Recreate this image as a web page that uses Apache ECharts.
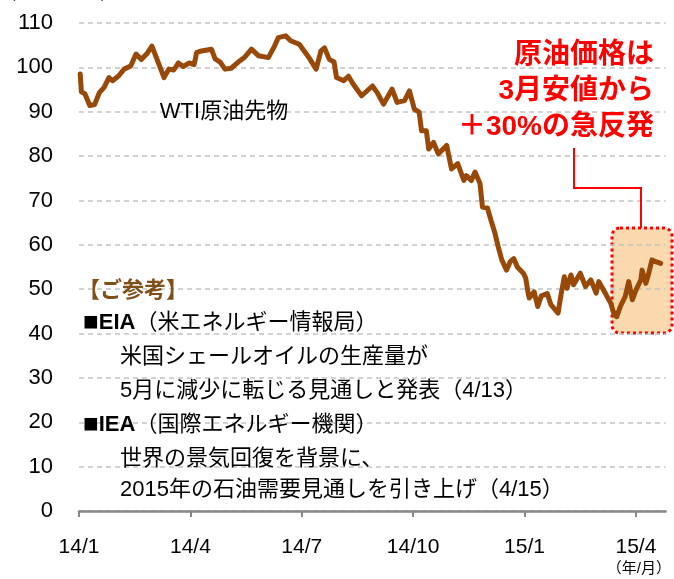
<!DOCTYPE html>
<html><head><meta charset="utf-8">
<script src="https://cdn.jsdelivr.net/npm/echarts@6/dist/echarts.min.js"></script>
<style>html,body{margin:0;padding:0;background:#fff}#c{width:674px;height:579px}</style>
</head><body><div id="c"></div>
<script>
// ---- data (WTI crude futures, USD/bbl) ----
var dates = [
'2014-01-02','2014-01-03','2014-01-06','2014-01-10','2014-01-14','2014-01-18','2014-01-22','2014-01-26','2014-01-29',
'2014-02-03','2014-02-07','2014-02-12','2014-02-16','2014-02-20','2014-02-24','2014-02-28',
'2014-03-04','2014-03-10','2014-03-14','2014-03-18','2014-03-22','2014-03-26','2014-03-31',
'2014-04-04','2014-04-06','2014-04-10','2014-04-18','2014-04-21','2014-04-25','2014-04-29',
'2014-05-04','2014-05-10','2014-05-15','2014-05-21','2014-05-27',
'2014-06-04','2014-06-09','2014-06-12','2014-06-18','2014-06-22','2014-06-29',
'2014-07-03','2014-07-07','2014-07-13','2014-07-17','2014-07-20','2014-07-24','2014-07-28','2014-07-30',
'2014-08-05','2014-08-09','2014-08-13','2014-08-20','2014-08-29',
'2014-09-02','2014-09-07','2014-09-14','2014-09-18','2014-09-24','2014-09-28',
'2014-10-02','2014-10-06','2014-10-08','2014-10-12','2014-10-14','2014-10-18','2014-10-22','2014-10-29',
'2014-11-02','2014-11-07','2014-11-12','2014-11-14','2014-11-18','2014-11-21','2014-11-25','2014-11-27',
'2014-12-01','2014-12-04','2014-12-07','2014-12-10','2014-12-13','2014-12-17','2014-12-20','2014-12-23','2014-12-26','2014-12-31',
'2015-01-02','2015-01-04','2015-01-05','2015-01-09','2015-01-12','2015-01-15','2015-01-20','2015-01-23','2015-01-29','2015-01-31',
'2015-02-03','2015-02-05','2015-02-08','2015-02-10','2015-02-15','2015-02-19','2015-02-23','2015-02-27',
'2015-03-01','2015-03-05','2015-03-11','2015-03-14','2015-03-16','2015-03-19','2015-03-23','2015-03-26','2015-03-29',
'2015-04-01','2015-04-05','2015-04-06','2015-04-09','2015-04-11','2015-04-14','2015-04-17','2015-04-21'
];
var wti = [
98.5,94.5,94.0,91.4,91.6,94.3,95.5,97.7,97.0,
98.1,99.6,100.3,103.0,101.8,103.0,104.8,
101.9,97.7,99.6,99.4,101.0,100.2,101.0,
100.6,103.3,103.7,104.1,101.9,101.2,99.6,
99.8,101.2,102.2,104.1,102.6,
102.2,104.8,106.7,107.1,106.0,105.2,
103.7,102.2,99.6,103.7,104.4,101.8,101.2,97.7,
97.0,98.0,96.2,93.6,95.8,
94.3,91.7,95.1,92.1,92.5,94.7,
90.6,89.9,85.7,85.7,81.6,83.1,80.5,82.4,
77.1,78.3,74.5,75.6,74.5,76.4,73.8,68.5,
68.3,65.5,62.9,59.6,56.6,54.3,56.2,56.9,55.0,53.6,
52.5,49.1,48.0,49.4,46.1,48.5,49.0,46.5,44.6,48.0,
52.8,50.2,53.2,51.0,53.6,50.6,52.1,49.1,
51.7,49.8,46.8,44.2,43.8,46.1,48.3,51.7,47.6,
49.8,52.1,54.3,51.3,53.2,56.6,56.2,55.8
];
var tickLabels = ['14/1','14/4','14/7','14/10','15/1','15/4'];
var tickMonths = [0,3,6,9,12,15];
var yTicks = [0,10,20,30,40,50,60,70,80,90,100,110];

// month index (months since 2014-01-01, fractional)
function monthIdx(s){
  var p = s.split('-'), y=+p[0], m=+p[1], d=+p[2];
  var dim = new Date(y, m, 0).getDate();
  return (y-2014)*12 + (m-1) + (d-1)/dim;
}
var seriesData = dates.map(function(d,i){ return [monthIdx(d), wti[i]]; });

var JP = "'Liberation Sans','Noto Sans CJK JP',sans-serif";
var richHead = {
  sq:{font:'26px '+JP, fill:'#000', lineHeight:26},
  b:{font:'bold 22px '+JP, fill:'#000'}
};
var chart = echarts.init(document.getElementById('c'), null, {renderer:'canvas'});
chart.setOption({
  animation:false,
  backgroundColor:'#ffffff',
  grid:{left:79, right:4, top:23, bottom:67, containLabel:false},
  xAxis:{
    type:'value', min:0, max:15.8,
    axisLine:{show:true, lineStyle:{color:'#878787', width:2.5}},
    axisTick:{show:true, customValues:tickMonths, length:6, inside:false, lineStyle:{color:'#878787', width:2}},
    splitLine:{show:false},
    axisLabel:{
      customValues:tickMonths, margin:24,
      fontFamily:JP, fontSize:21, color:'#000', lineHeight:24,
      formatter:function(v){
        var i = tickMonths.indexOf(Math.round(v));
        if(i<0) return '';
        if(i===tickMonths.length-1) return tickLabels[i]+'\n{s|（年/月）}';
        return tickLabels[i];
      },
      rich:{s:{fontFamily:JP, fontSize:15, color:'#000', lineHeight:20, padding:[0,0,0,6]}}
    }
  },
  yAxis:{
    type:'value', min:0, max:110, interval:10,
    axisLine:{show:false}, axisTick:{show:false},
    splitLine:{show:true, lineStyle:{color:'#c4c4c4', width:1.5, type:[5,4]}},
    axisLabel:{margin:26, fontFamily:JP, fontSize:22, color:'#000',
      formatter:function(v){ return yTicks.indexOf(v)>=0 ? String(v) : ''; }}
  },
  series:[{
    type:'line', data:seriesData, showSymbol:false, symbol:'none',
    lineStyle:{color:'#984807', width:5, join:'round', cap:'round'},
    z:5
  }],
  graphic:[
    {type:'rect', z:-1, shape:{x:612, y:228, width:60, height:105, r:8},
      style:{fill:'#f9d9ad', stroke:'#ff0000', lineWidth:3, lineDash:[3,3]}},
    {type:'polyline', z:10, shape:{points:[[574,148],[574,188],[641,188],[641,228]]},
      style:{stroke:'#ff0000', lineWidth:2, fill:null}},
    {type:'text', z:10, x:0, y:-13, style:{text:'（ドル/バレル）', font:'16px '+JP, fill:'#000'}},
    {type:'text', z:10, x:224, y:112, style:{text:'WTI原油先物', font:'22px '+JP, fill:'#000', textAlign:'center', textVerticalAlign:'middle'}},
    {type:'text', z:10, x:654, y:55, style:{text:'原油価格は', font:'bold 28px '+JP, fill:'#ff0000', textAlign:'right', textVerticalAlign:'middle'}},
    {type:'text', z:10, x:654, y:91, style:{text:'3月安値から', font:'bold 28px '+JP, fill:'#ff0000', textAlign:'right', textVerticalAlign:'middle'}},
    {type:'text', z:10, x:654, y:127, style:{text:'＋30%の急反発', font:'bold 28px '+JP, fill:'#ff0000', textAlign:'right', textVerticalAlign:'middle'}},
    {type:'text', z:10, x:78, y:291, style:{text:'【ご参考】', font:'bold 22px '+JP, fill:'#7f5119', textVerticalAlign:'middle'}},
    {type:'text', z:10, x:83, y:323, style:{text:'{sq|■}{b|EIA}（米エネルギー情報局）', font:'22px '+JP, fill:'#000', textVerticalAlign:'middle', rich:richHead}},
    {type:'text', z:10, x:120, y:357, style:{text:'米国シェールオイルの生産量が', font:'22px '+JP, fill:'#000', textVerticalAlign:'middle'}},
    {type:'text', z:10, x:120, y:391, style:{text:'5月に減少に転じる見通しと発表（4/13）', font:'22px '+JP, fill:'#000', textVerticalAlign:'middle'}},
    {type:'text', z:10, x:83, y:425, style:{text:'{sq|■}{b|IEA}（国際エネルギー機関）', font:'22px '+JP, fill:'#000', textVerticalAlign:'middle', rich:richHead}},
    {type:'text', z:10, x:120, y:459, style:{text:'世界の景気回復を背景に、', font:'22px '+JP, fill:'#000', textVerticalAlign:'middle'}},
    {type:'text', z:10, x:120, y:490, style:{text:'2015年の石油需要見通しを引き上げ（4/15）', font:'22px '+JP, fill:'#000', textVerticalAlign:'middle'}}
  ]
});
</script></body></html>
